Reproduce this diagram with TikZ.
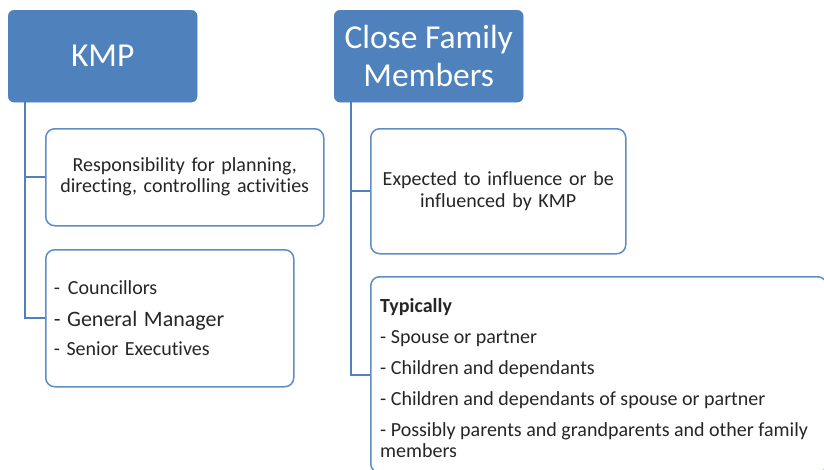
\documentclass[tikz,border=0pt]{standalone}
\usepackage{fontspec}
\setmainfont{Carlito}[Ligatures=NoCommon]
\definecolor{hdr}{HTML}{4F81BD}
\definecolor{bord}{HTML}{5F8DC8}
\definecolor{txt}{HTML}{262626}
\begin{document}
\begin{tikzpicture}[x=1pt,y=-1pt,
  hdrbox/.style={fill=hdr,draw=hdr,rounded corners=6pt,text=white,
    font=\fontsize{33.5}{38}\selectfont,align=center,anchor=north west,
    inner sep=0pt,minimum width=189pt,minimum height=92pt},
  infobox/.style={draw=bord,line width=1.5pt,fill=white,rounded corners=9pt,
    anchor=north west,inner xsep=8pt,inner ysep=0pt,text=txt,
    font=\fontsize{20}{21}\selectfont},
  conn/.style={draw=hdr,line width=2pt}]
\useasboundingbox (0,0) rectangle (824,469);
\node[hdrbox] (kmp) at (8,10) {KMP};
\node[hdrbox] (cfm) at (334,10) {Close Family\\Members};
\node[infobox,text width=262pt,align=center,minimum height=97pt] (b1) at (45,128)
  {Responsibility for planning,\\directing, controlling activities};
\node[infobox,text width=232pt,align=left,minimum height=137pt] (b2) at (45,249)
  {-\hspace{8pt}Councillors\\[11pt]{\fontsize{22}{22}\selectfont - General Manager}\\[8pt]- Senior Executives};
\node[infobox,text width=239pt,align=center,minimum height=125pt,
  font=\fontsize{20}{22}\selectfont] (b3) at (370,128)
  {Expected to influence or be\\influenced by KMP};
\node[infobox,minimum width=456pt,minimum height=196pt] (b4) at (370,276) {};
\node[anchor=north west,inner sep=0pt,text=txt,align=left,
  font=\fontsize{20}{21}\selectfont] (t4) at (380,298)
  {\textbf{Typically}\\[10pt]- Spouse or partner\\[10pt]- Children and dependants\\[10pt]- Children and dependants of spouse or partner\\[10pt]- Possibly parents and grandparents and other family\\members};
\coordinate (kl) at ([xshift=17pt]kmp.south west);
\coordinate (cl) at ([xshift=17pt]cfm.south west);
\draw[conn] (kl) |- (b1.west);
\draw[conn] (kl) |- (b2.west);
\draw[conn] (cl) |- (b3.west);
\draw[conn] (cl) |- (b4.west);
\end{tikzpicture}
\end{document}
